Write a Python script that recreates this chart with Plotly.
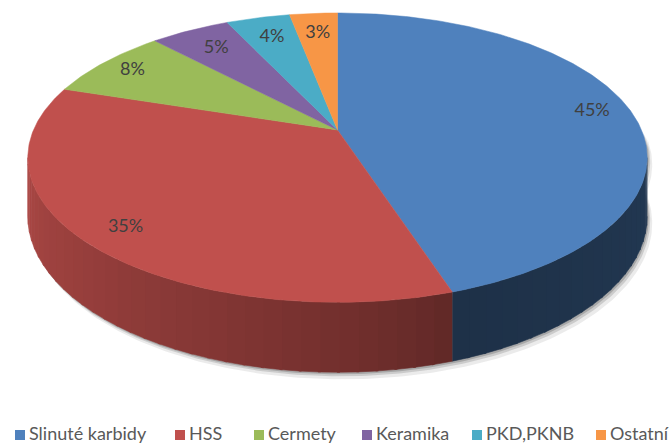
import numpy as np
import plotly.graph_objects as go

# ---- data ----
categories = ["Slinuté karbidy", "HSS", "Cermety", "Keramika", "PKD,PKNB", "Ostatní"]
values = [45, 35, 8, 5, 4, 3]
colors = ["#4F81BD", "#C0504D", "#9BBB59", "#8064A2", "#4BACC6", "#F79646"]

# ---- layout / geometry of the tilted pie (pixel space) ----
W, H = 670, 444
CX, CY = 337.5, 130.0      # apex of the top face
A, B = 304.0, 139.4        # horizontal / vertical radii
K = 0.191                  # perspective strength
D = 56.6                   # thickness
LABEL_R = [0.87, 0.87, 0.87, 0.80, 0.80, 0.80]
LEGEND_X = [20, 180, 259, 367, 477, 601]   # legend marker centres (px)
LEGEND_Y = 435
LEGEND_TEXT_DX = 9


def proj(theta_deg, r=1.0, depth=0.0):
    t = np.radians(np.asarray(theta_deg, dtype=float))
    u = r * np.sin(t)
    v = r * np.cos(t)
    s_rim = 1.0 / (1.0 + K * np.cos(t))
    s = 1.0 / (1.0 + K * v)
    return CX + A * u * s, CY - B * v * s + depth * s_rim


def hex_rgb(h):
    h = h.lstrip("#")
    return [int(h[i:i + 2], 16) for i in (0, 2, 4)]


def shade(hexcol, f):
    r, g, b = hex_rgb(hexcol)
    return "rgb(%d,%d,%d)" % (min(255, r * f), min(255, g * f), min(255, b * f))


def side_factor(theta):
    if theta >= 162:
        return 0.5 + 0.4 * ((theta - 162.0) / 98.0) ** 0.8
    return 0.38 + 0.06 * (162.0 - theta) / 62.0


total = float(sum(values))
starts = np.cumsum([0] + values[:-1]) / total * 360.0
ends = np.cumsum(values) / total * 360.0

T1 = np.degrees(np.arccos(-K))
T2 = 360.0 - T1

fig = go.Figure()

# soft shadow under the pie
for (dx, dy, alpha) in [(5, 7, 0.10), (3, 4, 0.18), (1.5, 2, 0.25)]:
    th = np.linspace(T1 - 10, T2 + 10, 200)
    bx, by = proj(th, depth=D)
    tx, ty = proj(th[::-1])
    fig.add_trace(go.Scatter(
        x=np.concatenate([bx + dx, tx + dx]), y=np.concatenate([by + dy, ty + dy]),
        fill="toself", mode="lines", line=dict(width=0),
        fillcolor="rgba(60,60,60,%.2f)" % alpha, hoverinfo="skip", showlegend=False))

# side walls (front part only)
for i in range(len(values)):
    a0, a1 = max(starts[i], T1), min(ends[i], T2)
    if a1 <= a0:
        continue
    n = max(1, int(np.ceil((a1 - a0) / 3.0)))
    edges = np.linspace(a0, a1, n + 1)
    for j in range(n):
        th = np.linspace(edges[j], edges[j + 1] + (0.4 if j < n - 1 else 0.0), 6)
        tx, ty = proj(th)
        bx, by = proj(th[::-1], depth=D)
        col = shade(colors[i], side_factor(0.5 * (edges[j] + edges[j + 1])))
        fig.add_trace(go.Scatter(
            x=np.concatenate([tx, bx]), y=np.concatenate([ty, by]),
            fill="toself", mode="lines", line=dict(width=0.6, color=col),
            fillcolor=col, hoverinfo="skip", showlegend=False))

# top faces
for i in range(len(values)):
    th = np.linspace(starts[i], ends[i], max(8, int((ends[i] - starts[i]) * 1.5)))
    ax_, ay_ = proj(th)
    fig.add_trace(go.Scatter(
        x=np.concatenate([[CX], ax_, [CX]]), y=np.concatenate([[CY], ay_, [CY]]),
        fill="toself", mode="lines", line=dict(width=0.5, color=colors[i]),
        fillcolor=colors[i], name=categories[i], hoverinfo="name", showlegend=False))

# percentage labels
mids = 0.5 * (starts + ends)
lx, ly = [], []
for i in range(len(values)):
    x, y = proj(mids[i], r=LABEL_R[i])
    lx.append(float(x))
    ly.append(float(y))
fig.add_trace(go.Scatter(
    x=lx, y=ly, mode="text",
    text=["%d%%" % round(v / total * 100) for v in values],
    textfont=dict(family="Lato", size=18, color="#404040"),
    hoverinfo="skip", showlegend=False))

# legend (square key + category name)
fig.add_trace(go.Scatter(
    x=LEGEND_X, y=[LEGEND_Y] * len(categories), mode="markers",
    marker=dict(symbol="square", size=10, color=colors, line=dict(width=0)),
    hoverinfo="skip", showlegend=False, cliponaxis=False))
fig.add_trace(go.Scatter(
    x=[x + LEGEND_TEXT_DX for x in LEGEND_X], y=[LEGEND_Y] * len(categories), mode="text",
    text=categories, textposition="middle right",
    textfont=dict(family="Lato", size=18, color="#595959"),
    hoverinfo="skip", showlegend=False, cliponaxis=False))

fig.update_layout(
    width=W, height=H, autosize=False,
    margin=dict(l=0, r=0, t=0, b=0),
    paper_bgcolor="white", plot_bgcolor="white",
    xaxis=dict(range=[0, W], visible=False, fixedrange=True),
    yaxis=dict(range=[H, 0], visible=False, fixedrange=True),
    showlegend=False,
)

fig.write_html("out.html", config={"displayModeBar": False},
               post_script="document.body.style.margin='0';document.body.style.padding='0';")
